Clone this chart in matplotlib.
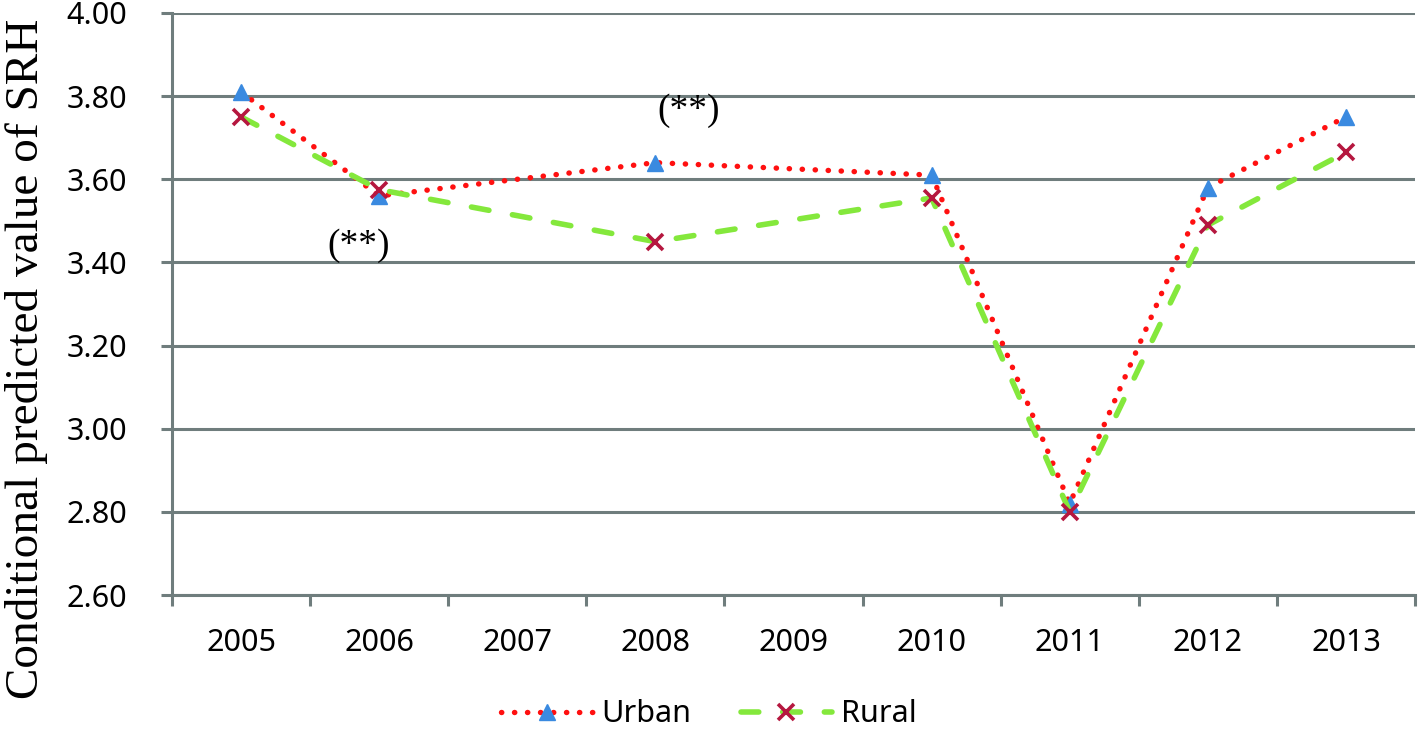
import matplotlib.pyplot as plt
from matplotlib.ticker import MultipleLocator, FormatStrFormatter

years = [2005, 2006, 2007, 2008, 2009, 2010, 2011, 2012, 2013]
obs_years = [2005, 2006, 2008, 2010, 2011, 2012, 2013]
urban = [3.81, 3.56, 3.64, 3.61, 2.82, 3.58, 3.75]
rural = [3.75, 3.575, 3.45, 3.555, 2.80, 3.49, 3.665]

grid_col = '#6f7d7d'

fig = plt.figure(figsize=(14.18, 7.29), dpi=100)
ax = fig.add_axes([0.1213, 0.1838, 0.8766, 0.7984])

ax.plot(obs_years, urban, color='#ff1010', lw=3.9, linestyle=(0, (0.05, 2.35)),
        dash_capstyle='round', marker='^', markersize=11,
        markerfacecolor='#3a8ae0', markeredgecolor='#3a8ae0', label='Urban', zorder=3)
ax.plot(obs_years, rural, color='#84e83c', lw=4.0, linestyle=(0, (3.2, 4.3)),
        dash_capstyle='round', marker='x', markersize=11, markeredgewidth=2.6,
        markeredgecolor='#b5173f', label='Rural', zorder=4)

ax.text(2005.85, 3.44, '(**)', fontsize=27, family='Liberation Serif', ha='center', va='center')
ax.text(2008.24, 3.765, '(**)', fontsize=27, family='Liberation Serif', ha='center', va='center')

ax.set_xlim(2004.5, 2013.5)
ax.set_ylim(2.6, 4.0)
ax.set_xticks(years)
ax.set_xticklabels([str(y) for y in years])
ax.xaxis.set_minor_locator(MultipleLocator(1, offset=0.5))
ax.yaxis.set_major_locator(MultipleLocator(0.2))
ax.yaxis.set_major_formatter(FormatStrFormatter('%.2f'))

ax.grid(axis='y', color=grid_col, lw=2.2)
ax.set_axisbelow(True)
for s in ['top', 'right']:
    ax.spines[s].set_visible(False)
for s in ['left', 'bottom']:
    ax.spines[s].set_color(grid_col)
    ax.spines[s].set_linewidth(2.2)

ax.tick_params(axis='x', which='major', length=0, pad=24, labelsize=22)
ax.tick_params(axis='x', which='minor', length=8, width=2.2, color=grid_col)
ax.tick_params(axis='y', length=8, width=2.2, color=grid_col, pad=24, labelsize=22)
for lab in ax.get_xticklabels() + ax.get_yticklabels():
    lab.set_family('Noto Sans')

ax.set_ylabel('Conditional predicted value of SRH', family='Liberation Serif', fontsize=34)
ax.yaxis.set_label_coords(-0.1, 0.405)

fig.legend(loc='lower center', bbox_to_anchor=(0.5, -0.038), ncol=2, frameon=False,
           prop={'family': 'Noto Sans', 'size': 22}, handlelength=3.0, columnspacing=1.6,
           handletextpad=0.3)

fig.savefig('out.png', dpi=100)
